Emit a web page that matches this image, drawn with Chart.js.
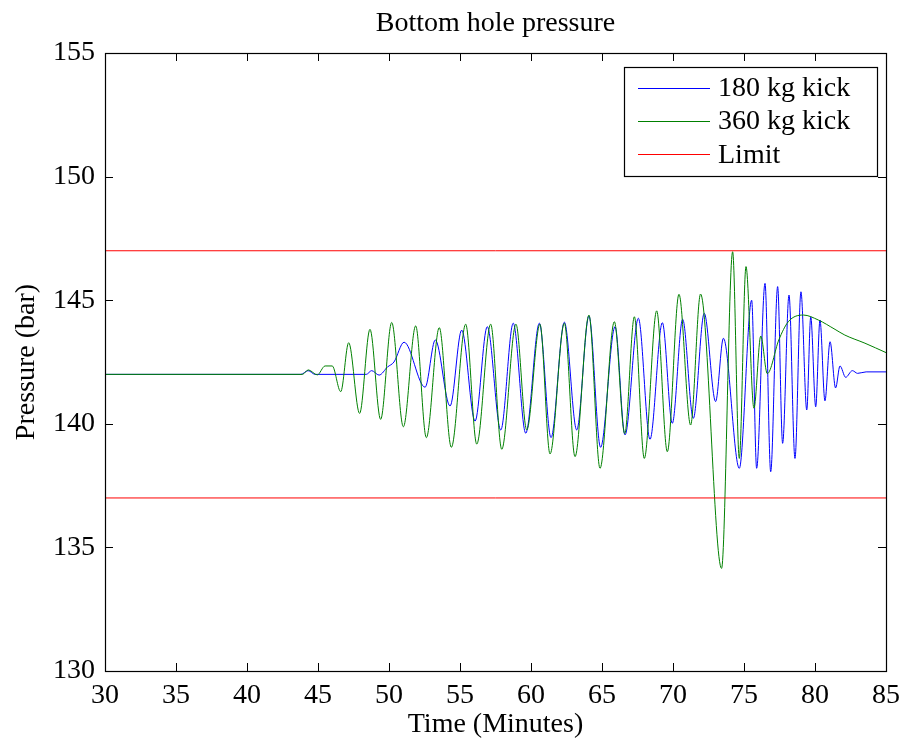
<!DOCTYPE html>
<html>
<head>
<meta charset="utf-8">
<script src="https://cdn.jsdelivr.net/npm/chart.js@4.4.1/dist/chart.umd.min.js"></script>
<style>
  html, body { margin: 0; padding: 0; background: #ffffff; }
  #wrap { width: 902px; height: 741px; }
</style>
</head>
<body>
<div id="wrap"><canvas id="c" width="902" height="741"></canvas></div>
<script>
// ---- Data ----
const chartTitle = "Bottom hole pressure";
const xTitle = "Time (Minutes)";
const yTitle = "Pressure (bar)";
const seriesNames = ["180 kg kick", "360 kg kick", "Limit"];

// 180 kg kick (blue): time in minutes, pressure in bar (turning points)
const blueT = [30, 43.8, 44.3, 44.8, 48.4, 48.78, 49.3, 49.9, 50.35, 51.06, 52.54, 53.26, 54.3, 55.12, 56.06, 56.92, 57.87, 58.75, 59.63, 60.59, 61.41, 62.35, 63.22, 64.08, 64.9, 65.92, 66.62, 67.56, 68.38, 69.25, 69.95, 70.68, 71.43, 72.2, 73.0, 73.55, 74.67, 75.54, 75.89, 76.48, 76.88, 77.37, 77.72, 78.17, 78.59, 79.01, 79.42, 79.7, 80.05, 80.35, 80.7, 81.06, 81.45, 81.76, 82.16, 82.63, 83.0, 83.6, 85];
const blueP = [142, 142, 142.15, 142, 142, 142.15, 141.97, 142.3, 142.5, 143.3, 141.48, 143.39, 140.72, 143.79, 140.11, 143.93, 139.75, 144.07, 139.62, 144.07, 139.44, 144.11, 139.75, 144.36, 139.05, 143.93, 139.55, 144.27, 139.37, 144.09, 140.02, 144.23, 140.22, 144.47, 140.9, 143.46, 138.2, 145.0, 138.2, 145.68, 138.06, 145.55, 139.21, 145.21, 138.6, 145.34, 140.56, 144.33, 140.69, 144.2, 140.93, 143.32, 141.45, 142.34, 141.88, 142.15, 142.04, 142.1, 142.1];

// 360 kg kick (green)
const greenT = [30, 43.9, 44.32, 44.95, 45.5, 46.0, 46.6, 47.16, 47.93, 48.66, 49.41, 50.19, 51.01, 51.88, 52.63, 53.54, 54.39, 55.4, 56.18, 57.16, 57.94, 58.94, 59.7, 60.63, 61.34, 62.35, 63.1, 64.08, 64.86, 65.87, 66.6, 67.28, 67.98, 68.85, 69.6, 70.42, 71.24, 71.94, 73.42, 74.2, 74.67, 75.14, 75.7, 76.18, 76.64, 77.45, 78.12, 79.18, 80.23, 81.41, 82.1, 83.52, 85];
const greenP = [142, 142, 142.18, 141.98, 142.34, 142.34, 141.3, 143.28, 140.42, 143.82, 140.18, 144.1, 139.88, 143.96, 139.44, 143.89, 139.05, 144.03, 139.18, 144.03, 138.97, 144.03, 139.75, 144.03, 138.78, 144.07, 138.67, 144.4, 138.2, 144.13, 139.6, 144.33, 138.6, 144.57, 138.87, 145.24, 139.95, 145.25, 134.15, 146.96, 138.6, 146.36, 140.63, 143.55, 142.03, 143.39, 144.13, 144.4, 144.2, 143.82, 143.59, 143.26, 142.88];

// Limits (red)
const limitT = [30, 85];
const upperLimit = 147;
const lowerLimit = 137;

// Axis ranges / ticks
const xMin = 30, xMax = 85, xStep = 5;
const yMin = 130, yMax = 155, yStep = 5;

// ---- Build datasets ----
function pts(ts, ps) { return ts.map((t, i) => ({ x: t, y: ps[i] })); }
const limitPts = [
  { x: limitT[0], y: upperLimit }, { x: limitT[1], y: upperLimit },
  { x: limitT[1], y: null },
  { x: limitT[0], y: lowerLimit }, { x: limitT[1], y: lowerLimit }
];

const FONT = "'Liberation Serif', 'Times New Roman', serif";
const FSIZE = 28;
Chart.defaults.font.family = FONT;
Chart.defaults.font.size = FSIZE;
Chart.defaults.color = '#000000';

const frameTicks = {
  id: 'frameTicks',
  afterLayout(chart) {
    // centre the title over the plotting area, as in the reference
    const tb = chart.titleBlock, a = chart.chartArea;
    if (tb) { tb.left = a.left; tb.right = a.right; tb.width = a.right - a.left; }
  },
  afterDatasetsDraw(chart) {
    const ctx = chart.ctx, a = chart.chartArea;
    const xs = chart.scales.x, ys = chart.scales.y;
    const L = 8;
    ctx.save();
    ctx.strokeStyle = '#000000';
    ctx.lineWidth = 1;
    ctx.beginPath();
    xs.ticks.forEach(t => {
      const px = Math.round(xs.getPixelForValue(t.value)) + 0.5;
      ctx.moveTo(px, a.bottom); ctx.lineTo(px, a.bottom - L);
      ctx.moveTo(px, a.top); ctx.lineTo(px, a.top + L);
    });
    ys.ticks.forEach(t => {
      const py = Math.round(ys.getPixelForValue(t.value)) + 0.5;
      ctx.moveTo(a.left, py); ctx.lineTo(a.left + L, py);
      ctx.moveTo(a.right, py); ctx.lineTo(a.right - L, py);
    });
    ctx.stroke();
    ctx.lineWidth = 1.2;
    ctx.strokeRect(Math.round(a.left) + 0.5, Math.round(a.top) + 0.5, Math.round(a.right - a.left), Math.round(a.bottom - a.top));
    ctx.restore();
  },
  afterDraw(chart) {
    // legend box
    const ctx = chart.ctx, a = chart.chartArea;
    const w = 253, h = 109;
    const left = a.right - 9 - w, top = a.top + 14;
    ctx.save();
    ctx.fillStyle = '#ffffff';
    ctx.fillRect(left, top, w, h);
    ctx.strokeStyle = '#000000';
    ctx.lineWidth = 1.2;
    ctx.strokeRect(Math.round(left) + 0.5, Math.round(top) + 0.5, w, h);
    ctx.font = FSIZE + 'px ' + FONT;
    ctx.textBaseline = 'middle';
    ctx.textAlign = 'left';
    const ds = chart.data.datasets;
    for (let i = 0; i < ds.length; i++) {
      const yy = top + 20.5 + i * 33.4;
      ctx.strokeStyle = ds[i].borderColor;
      ctx.lineWidth = 1;
      ctx.beginPath();
      ctx.moveTo(left + 14, Math.round(yy) + 0.5);
      ctx.lineTo(left + 86, Math.round(yy) + 0.5);
      ctx.stroke();
      ctx.fillStyle = '#000000';
      ctx.fillText(ds[i].label, left + 94, yy + 1);
    }
    ctx.restore();
  }
};

new Chart(document.getElementById('c'), {
  type: 'line',
  data: {
    datasets: [
      { label: seriesNames[0], data: pts(blueT, blueP), borderColor: '#0000ff', borderWidth: 1, pointRadius: 0, cubicInterpolationMode: 'monotone', order: 0 },
      { label: seriesNames[1], data: pts(greenT, greenP), borderColor: '#008000', borderWidth: 1, pointRadius: 0, cubicInterpolationMode: 'monotone', order: -1 },
      { label: seriesNames[2], data: limitPts, borderColor: '#ff0000', borderWidth: 1, pointRadius: 0, tension: 0, spanGaps: false, order: -2 }
    ]
  },
  options: {
    responsive: false,
    animation: false,
    layout: { padding: { left: 0, right: 16, top: 0, bottom: 0 } },
    plugins: {
      legend: { display: false },
      tooltip: { enabled: false },
      title: {
        display: true,
        text: chartTitle,
        color: '#000000',
        font: { family: FONT, size: FSIZE, weight: 'normal' },
        padding: { top: 7, bottom: 12.4 }
      }
    },
    scales: {
      x: {
        type: 'linear',
        min: xMin, max: xMax,
        grid: { display: false, drawTicks: false },
        border: { display: false },
        ticks: { stepSize: xStep, padding: 8, maxRotation: 0, autoSkip: false, color: '#000000', font: { family: FONT, size: FSIZE } },
        title: { display: true, text: xTitle, color: '#000000', font: { family: FONT, size: FSIZE }, padding: { top: 0, bottom: 0 } },
        afterFit(s) { s.height = 70; s.paddingLeft = 0; s.paddingRight = 0; }
      },
      y: {
        type: 'linear',
        min: yMin, max: yMax,
        grid: { display: false, drawTicks: false },
        border: { display: false },
        ticks: { stepSize: yStep, padding: 10, color: '#000000', font: { family: FONT, size: FSIZE } },
        title: { display: true, text: yTitle, color: '#000000', font: { family: FONT, size: FSIZE }, padding: { top: 10, bottom: 0 } },
        afterFit(s) { s.width = 105; s.paddingTop = 0; s.paddingBottom = 0; }
      }
    }
  },
  plugins: [frameTicks]
});
</script>
</body>
</html>
